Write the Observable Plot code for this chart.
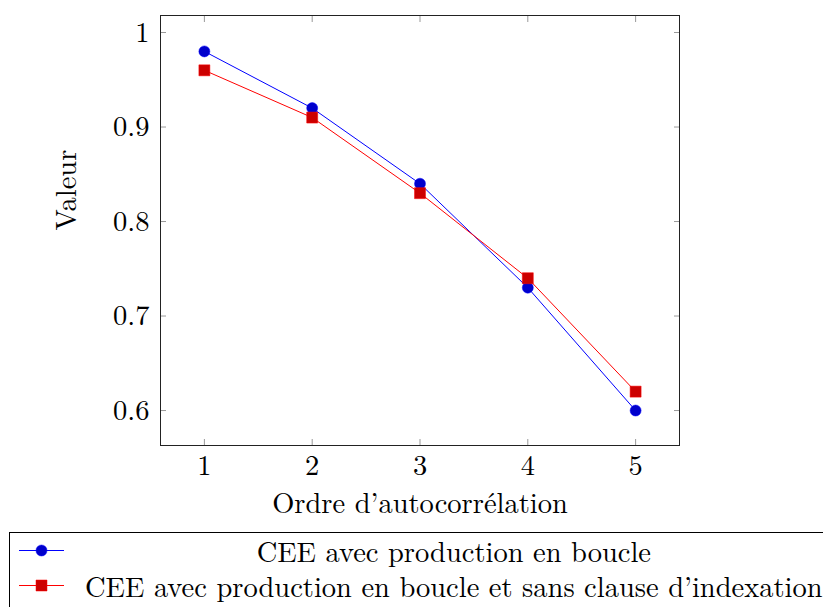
<!DOCTYPE html>
<html>
<head>
<meta charset="utf-8">
<script src="https://cdn.jsdelivr.net/npm/d3@7"></script>
<script src="https://cdn.jsdelivr.net/npm/@observablehq/plot@0.6"></script>
<style>
  html, body { margin: 0; padding: 0; background: #fff; }
  body { width: 823px; height: 607px; overflow: hidden; position: relative; font-family: 'Latin Modern Roman', 'Liberation Serif', serif; }
  #legend { position: absolute; left: 9px; top: 532px; border: 1px solid #000; border-right: none; border-bottom: none; width: 830px; height: 90px; font-size: 28.5px; font-family: 'Latin Modern Roman', 'Liberation Serif', serif; }
  #legend table { border-collapse: collapse; }
  #legend td { padding: 0; height: 35px; line-height: 35px; }
  #legend td.txt { text-align: center; white-space: nowrap; }
  #legend svg { display: block; }
  #chart svg text { font-family: 'Latin Modern Roman', 'Liberation Serif', serif; }
</style>
</head>
<body>
<div id="chart"></div>
<div id="legend"></div>
<script>
const orders = [1, 2, 3, 4, 5];
const seriesA = [0.98, 0.92, 0.84, 0.73, 0.60];
const seriesB = [0.96, 0.91, 0.83, 0.74, 0.62];
const nameA = "CEE avec production en boucle";
const nameB = "CEE avec production en boucle et sans clause d’indexation";
const xTicks = [1, 2, 3, 4, 5];
const yTicks = [0.6, 0.7, 0.8, 0.9, 1];
const xLabel = "Ordre d’autocorrélation";
const yLabel = "Valeur";

const dataA = orders.map((x, i) => ({x, y: seriesA[i]}));
const dataB = orders.map((x, i) => ({x, y: seriesB[i]}));
const fmt = d => d === 1 ? "1" : d3.format(".1f")(d);
const tickColor = "#999";
const FONT = "'Latin Modern Roman', 'Liberation Serif', serif";
const FS = 28.5;

const chart = Plot.plot({
  width: 823,
  height: 532,
  marginLeft: 160,
  marginRight: 144,
  marginTop: 15,
  marginBottom: 87,
  style: {fontFamily: FONT, fontSize: FS + "px", color: "#000", background: "#fff"},
  x: {domain: [0.593, 5.407]},
  y: {domain: [0.5630, 1.018]},
  marks: [
    Plot.axisX(xTicks, {anchor: "bottom", tickSize: -6, tickPadding: 15, stroke: tickColor, tickFormat: d => String(d), label: null}),
    Plot.axisX(xTicks, {anchor: "top", tickSize: -6, stroke: tickColor, tickFormat: () => "", label: null}),
    Plot.axisY(yTicks, {anchor: "left", tickSize: -6, tickPadding: 17, stroke: tickColor, tickFormat: fmt, label: null}),
    Plot.axisY(yTicks, {anchor: "right", tickSize: -6, stroke: tickColor, tickFormat: () => "", label: null}),
    Plot.frame({stroke: "#222", strokeWidth: 1}),
    Plot.line(dataA, {x: "x", y: "y", stroke: "#0000ff", strokeWidth: 1}),
    Plot.line(dataB, {x: "x", y: "y", stroke: "#ff0000", strokeWidth: 1}),
    Plot.dot(dataA, {x: "x", y: "y", r: 5.5, symbol: "circle", fill: "#0000cc", stroke: "#0000ff", strokeWidth: 0.5}),
    Plot.dot(dataB, {x: "x", y: "y", r: 6.2, symbol: "square", fill: "#cc0000", stroke: "#ff0000", strokeWidth: 0.5}),
    Plot.text([xLabel], {frameAnchor: "bottom", dy: 67, text: d => d, fontSize: FS}),
    Plot.text([yLabel], {frameAnchor: "left", dx: -94, rotate: -90, text: d => d, fontSize: FS})
  ]
});
document.getElementById("chart").appendChild(chart);

// Legend
const legend = d3.select("#legend").append("table");
const entries = [
  {name: nameA, color: "#0000ff", fill: "#0000cc", symbol: d3.symbolCircle, r: 5.5},
  {name: nameB, color: "#ff0000", fill: "#cc0000", symbol: d3.symbolSquare, r: 6.2}
];
entries.forEach(e => {
  const tr = legend.append("tr");
  const sw = tr.append("td").append("svg").attr("width", 75).attr("height", 35);
  sw.append("line").attr("x1", 9).attr("x2", 54).attr("y1", 17.5).attr("y2", 17.5).attr("stroke", e.color).attr("stroke-width", 1);
  sw.append("path").attr("d", d3.symbol(e.symbol, Math.PI * e.r * e.r)()).attr("transform", "translate(31.5,17.5)")
    .attr("fill", e.fill).attr("stroke", e.color).attr("stroke-width", 0.5);
  tr.append("td").attr("class", "txt").text(e.name);
});
</script>
</body>
</html>
